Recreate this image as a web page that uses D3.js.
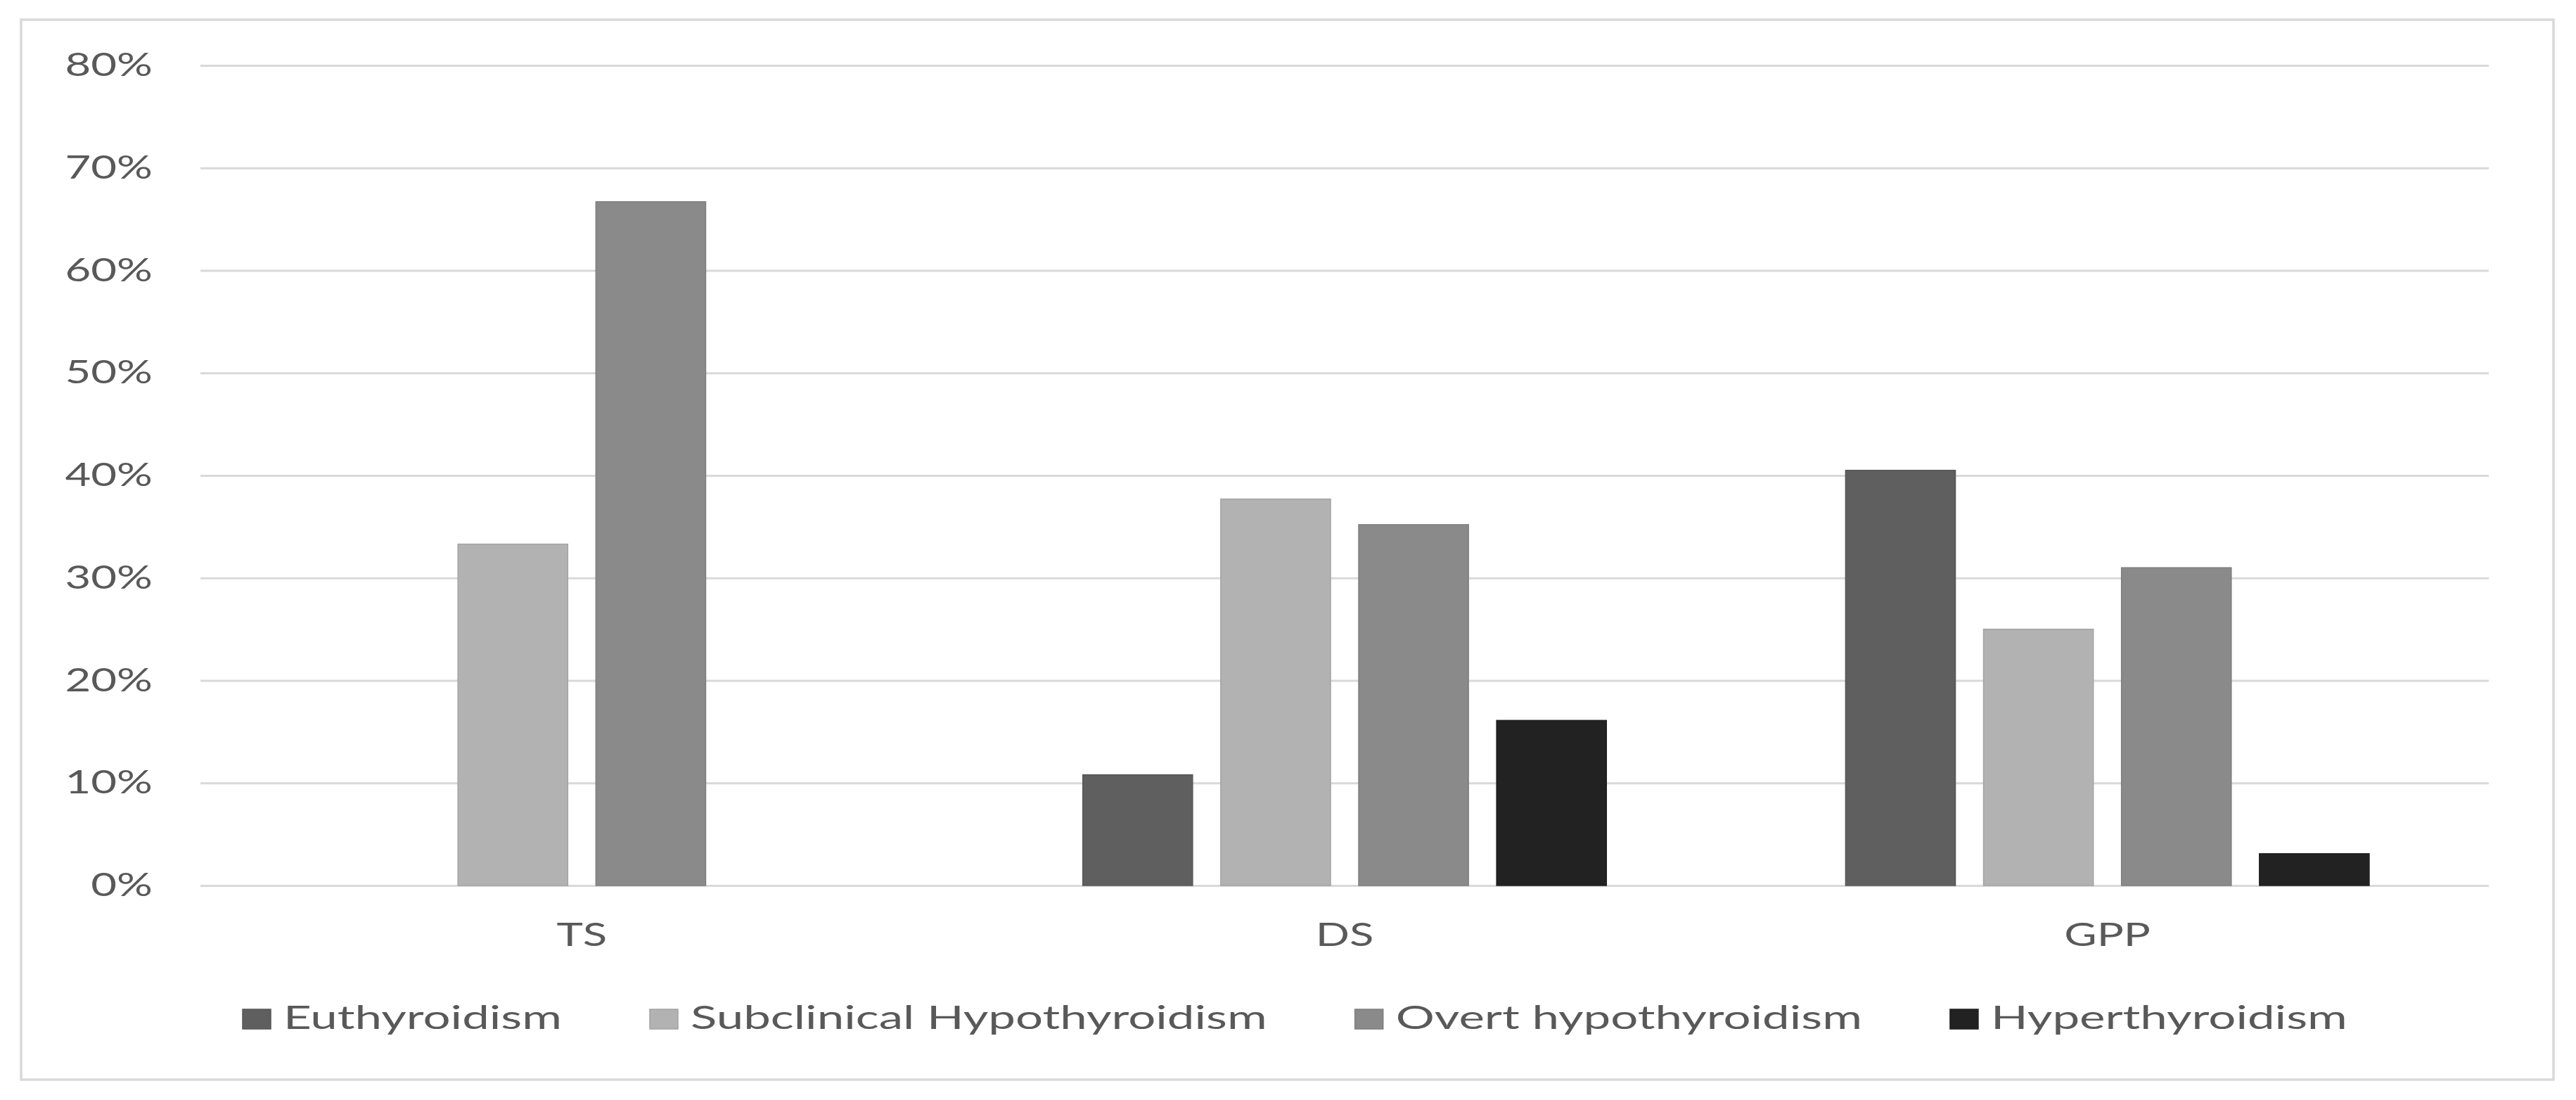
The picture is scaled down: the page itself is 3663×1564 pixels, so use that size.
<!DOCTYPE html>
<html>
<head>
<meta charset="utf-8">
<script src="https://cdn.jsdelivr.net/npm/d3@7/dist/d3.min.js"></script>
<style>
  body { margin: 0; background: #fff; }
  text { font-family: Lato, "Open Sans", sans-serif; fill: #595959; }
</style>
</head>
<body>
<div id="chart"></div>
<script>
// data (percent)
const groups = ["TS", "DS", "GPP"];
const seriesNames = ["Euthyroidism", "Subclinical Hypothyroidism", "Overt hypothyroidism", "Hyperthyroidism"];
const euthyroidism = [0, 10.8, 40.5];
const subclinical = [33.3, 37.7, 25.0];
const overt = [66.7, 35.2, 31.0];
const hyperthyroidism = [0, 16.1, 3.1];
const yTicks = [0, 10, 20, 30, 40, 50, 60, 70, 80];
const colors = ["#5f5f5f", "#b2b2b2", "#8a8a8a", "#222222"];

const W = 3663, H = 1564;
const plotLeft = 285, plotRight = 3539, plotTop = 93, plotBottom = 1259;
const fontSize = 46;
const stretch = 1.38;       // source picture is stretched sideways
const legendStretch = 1.5;  // legend words come out a bit wider there

const allSeries = [euthyroidism, subclinical, overt, hyperthyroidism];
const table = groups.map((g, i) => ({
  group: g,
  values: seriesNames.map((s, j) => ({ name: s, value: allSeries[j][i] }))
}));

const svg = d3.select("#chart").append("svg")
  .attr("width", W)
  .attr("height", H);

// outer frame
svg.append("rect")
  .attr("x", 30).attr("y", 28)
  .attr("width", 3601).attr("height", 1507)
  .attr("fill", "#fff")
  .attr("stroke", "#d9d9d9")
  .attr("stroke-width", 3.5);

const x0 = d3.scaleBand().domain(groups).range([plotLeft, plotRight]).padding(0);
const x1 = d3.scaleBand().domain(seriesNames).range([0, x0.bandwidth()])
  .paddingInner(0.204).paddingOuter(0.867);
const y = d3.scaleLinear().domain([0, 80]).range([plotBottom, plotTop]);
const color = d3.scaleOrdinal().domain(seriesNames).range(colors);

// y axis + gridlines
const yAxis = svg.append("g")
  .attr("transform", "translate(" + plotLeft + ",0)")
  .call(d3.axisLeft(y).tickValues(yTicks).tickSize(-(plotRight - plotLeft)).tickPadding(68).tickFormat(d => d + "%"));
yAxis.select(".domain").remove();
yAxis.selectAll("line").attr("stroke", "#d9d9d9").attr("stroke-width", 3);
yAxis.selectAll("text").style("font-size", fontSize + "px").attr("fill", "#595959");

// bars
const grp = svg.append("g").selectAll("g")
  .data(table)
  .enter()
  .append("g")
  .attr("transform", d => "translate(" + x0(d.group) + ",0)");

grp.selectAll("rect")
  .data(d => d.values.filter(v => v.value > 0))
  .enter()
  .append("rect")
  .attr("x", d => x1(d.name))
  .attr("y", d => y(d.value))
  .attr("width", x1.bandwidth())
  .attr("height", d => y(0) - y(d.value))
  .attr("fill", d => color(d.name))
  .attr("stroke", d => d3.color(color(d.name)).darker(0.25))
  .attr("stroke-width", 1.5);

// category labels
const xAxis = svg.append("g")
  .attr("transform", "translate(0," + plotBottom + ")")
  .call(d3.axisBottom(x0).tickSize(0).tickPadding(53));
xAxis.select(".domain").remove();
xAxis.selectAll("text").style("font-size", fontSize + "px").attr("fill", "#595959");

// stretch texts sideways like the source
function widen(sel) {
  sel.each(function() {
    const w = this.getComputedTextLength();
    d3.select(this).attr("textLength", w * stretch).attr("lengthAdjust", "spacingAndGlyphs");
  });
}
widen(svg.selectAll("text"));

// legend
const legend = svg.append("g");
let lx = 345;
seriesNames.forEach(function(name) {
  legend.append("rect")
    .attr("x", lx).attr("y", 1435)
    .attr("width", 40).attr("height", 28)
    .attr("fill", color(name))
    .attr("stroke", d3.color(color(name)).darker(0.25))
    .attr("stroke-width", 1.5);
  const t = legend.append("text")
    .attr("x", lx + 58)
    .attr("y", 1463)
    .style("font-size", fontSize + "px")
    .text(name);
  const w = t.node().getComputedTextLength() * legendStretch;
  t.attr("textLength", w).attr("lengthAdjust", "spacingAndGlyphs");
  lx = lx + 58 + w + 125;
});
</script>
</body>
</html>
